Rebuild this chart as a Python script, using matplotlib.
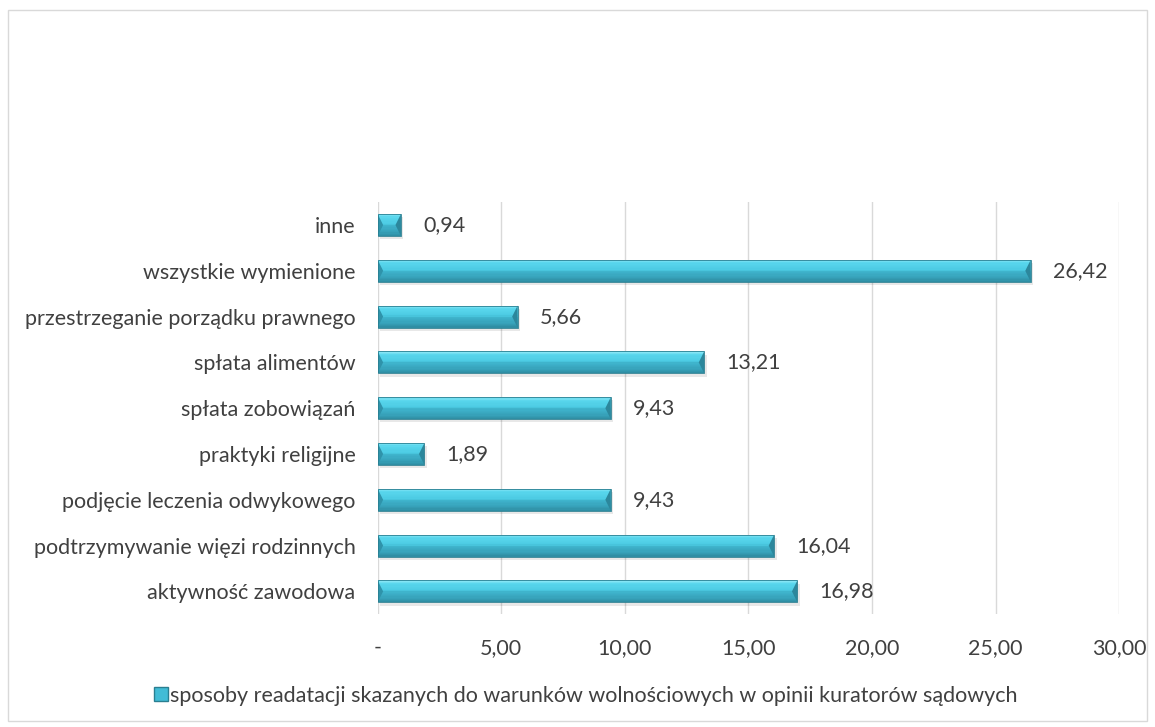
import numpy as np
import matplotlib.pyplot as plt
from matplotlib.patches import Rectangle, Polygon
from matplotlib.lines import Line2D
from matplotlib.colors import to_rgb

plt.rcParams["font.family"] = ["Lato", "DejaVu Sans"]

categories = [
    "aktywność zawodowa",
    "podtrzymywanie więzi rodzinnych",
    "podjęcie leczenia odwykowego",
    "praktyki religijne",
    "spłata zobowiązań",
    "spłata alimentów",
    "przestrzeganie porządku prawnego",
    "wszystkie wymienione",
    "inne",
]
values = [16.98, 16.04, 9.43, 1.89, 9.43, 13.21, 5.66, 26.42, 0.94]
series_name = ("sposoby readatacji skazanych do warunków wolnościowych "
               "w opinii kuratorów sądowych")
xticks = [0, 5, 10, 15, 20, 25, 30]

C_MAIN = "#42bcd6"
C_EDGE = "#2a7f91"
TXT = "#404040"
FS = 15.5


def blend(c1, c2, t):
    a, b = np.array(to_rgb(c1)), np.array(to_rgb(c2))
    return tuple(a + (b - a) * t)


# vertical gradient stops (bottom -> top)
grad = [(0.0, "#2e8ba0"), (0.2, "#37a2ba"), (0.48, "#3fb4cd"),
        (0.55, "#4ccbe3"), (0.85, "#58d6ec"), (1.0, "#8ee9f7")]


def grad_color(t):
    for (t0, c0), (t1, c1) in zip(grad[:-1], grad[1:]):
        if t <= t1:
            return blend(c0, c1, (t - t0) / (t1 - t0))
    return to_rgb(grad[-1][1])


fig = plt.figure(figsize=(11.55, 7.27), dpi=100)
fig.patches.append(Rectangle((0.007, 0.008), 0.986, 0.978, transform=fig.transFigure,
                             fill=False, edgecolor="#d9d9d9", linewidth=1.0))

ax = fig.add_axes([0.327, 0.155, 0.642, 0.567])
y = np.arange(len(categories))
h = 0.48
n_strips = 18

for yi, v in zip(y, values):
    # soft shadow
    ax.add_patch(Rectangle((0.1, yi - h / 2 - 0.07), v, h, facecolor="#000000",
                           alpha=0.09, linewidth=0, zorder=2))
    ax.barh(yi, v, height=h, color=C_MAIN, linewidth=0, zorder=3)
    for k in range(n_strips):
        y0 = yi - h / 2 + h * k / n_strips
        ax.add_patch(Rectangle((0, y0), v, h / n_strips * 1.05,
                               facecolor=grad_color((k + 0.5) / n_strips),
                               linewidth=0, zorder=4))
    # bevelled ends
    bev = min(0.22, v / 2)
    ax.add_patch(Polygon([(0, yi - h / 2), (0, yi + h / 2), (bev, yi)],
                         closed=True, facecolor="#2f93aa", linewidth=0, zorder=5))
    ax.add_patch(Polygon([(v, yi - h / 2), (v, yi + h / 2), (v - bev, yi)],
                         closed=True, facecolor="#2c879c", linewidth=0, zorder=5))
    ax.add_patch(Rectangle((0, yi - h / 2), v, h, fill=False, edgecolor=C_EDGE,
                           linewidth=0.6, zorder=6))
    ax.text(v + 0.9, yi, f"{v:.2f}".replace(".", ","), va="center", ha="left",
            fontsize=FS, color=TXT, zorder=7)

ax.set_xlim(0, 30)
ax.set_ylim(-0.5, len(categories) - 0.5)
ax.set_xticks(xticks)
ax.set_xticklabels(["-" if t == 0 else f"{t:.2f}".replace(".", ",") for t in xticks])
ax.set_yticks(y)
ax.set_yticklabels(categories)
ax.tick_params(length=0, labelsize=FS, colors=TXT)
ax.tick_params(axis="x", pad=17)
ax.tick_params(axis="y", pad=16)
ax.grid(axis="x", color="#d9d9d9", linewidth=1.0, zorder=0)
ax.set_axisbelow(True)
for s in ax.spines.values():
    s.set_visible(False)

handle = Line2D([0], [0], marker="s", color="w", markerfacecolor=C_MAIN,
                markeredgecolor=C_EDGE, markersize=10.5, linestyle="none")
fig.legend(handles=[handle], labels=[series_name], loc="center",
           bbox_to_anchor=(0.507, 0.043), frameon=False, fontsize=FS,
           handletextpad=0.05, labelcolor=TXT, handlelength=0.7)

fig.savefig("out.png", dpi=100)
